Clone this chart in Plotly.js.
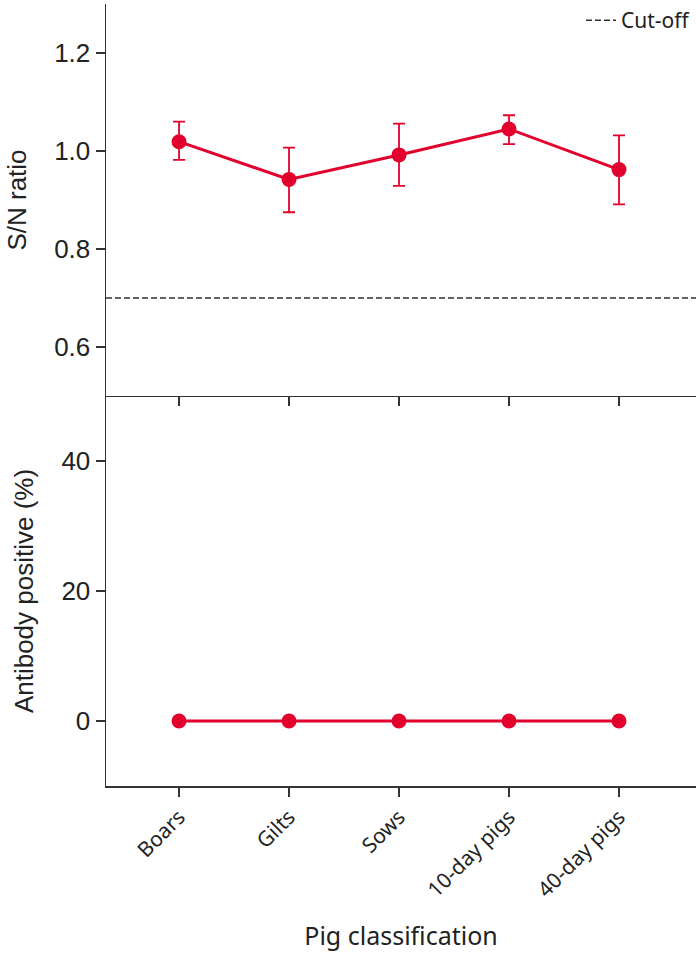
<!DOCTYPE html>
<html>
<head>
<meta charset="utf-8">
<script src="https://cdn.plot.ly/plotly-3.0.1.min.js"></script>
<style>
  html, body { margin: 0; padding: 0; background: #fff; }
  #chart { width: 696px; height: 953px; }
</style>
</head>
<body>
<div id="chart"></div>
<script>
// pig groups
const groups = ['Boars', 'Gilts', 'Sows', '10-day pigs', '40-day pigs'];

// S/N ratio (mean with error bar ends)
const snRatio = [1.019, 0.942, 0.992, 1.045, 0.962];
const snErrUp = [0.041, 0.065, 0.064, 0.028, 0.070];
const snErrDown = [0.037, 0.067, 0.063, 0.031, 0.071];

// antibody positive (%)
const positive = [0, 0, 0, 0, 0];

const cutOff = 0.7;

const red = '#e2002d';
const axisColor = '#333333';
const tickFont = { family: 'Liberation Sans, Arial, sans-serif', size: 26, color: '#222' };

let snTrace = {
    x: groups,
    y: snRatio,
    xaxis: 'x2',
    yaxis: 'y2',
    mode: 'lines+markers',
    type: 'scatter',
    line: { color: red, width: 3 },
    marker: { color: red, size: 15 },
    error_y: {
        type: 'data',
        symmetric: false,
        array: snErrUp,
        arrayminus: snErrDown,
        color: red,
        thickness: 1.8,
        width: 6
    },
    showlegend: false
};

let posTrace = {
    x: groups,
    y: positive,
    xaxis: 'x',
    yaxis: 'y',
    mode: 'lines+markers',
    type: 'scatter',
    line: { color: red, width: 3 },
    marker: { color: red, size: 15 },
    showlegend: false
};

let splitY = 391 / 784;

let layout = {
    width: 696,
    height: 953,
    margin: { l: 106, r: 0, t: 2, b: 167 },
    paper_bgcolor: '#fff',
    plot_bgcolor: '#fff',
    showlegend: true,
    legend: {
        x: 1, xanchor: 'right',
        y: 1.005, yanchor: 'top',
        bgcolor: 'rgba(0,0,0,0)',
        font: { family: 'Noto Sans, sans-serif', size: 21, color: '#222' }
    },
    xaxis: {
        domain: [0, 1],
        anchor: 'y',
        range: [-0.664, 4.7],
        showline: true,
        linecolor: axisColor,
        linewidth: 1.5,
        showgrid: false,
        zeroline: false,
        ticks: 'outside',
        ticklen: 9,
        tickwidth: 1.5,
        tickcolor: axisColor,
        tickangle: -45,
        tickfont: { family: 'Noto Sans, sans-serif', size: 21, color: '#222' },
        title: {
            text: 'Pig classification',
            font: { family: 'Noto Sans, sans-serif', size: 25, color: '#222' },
            standoff: 26
        }
    },
    xaxis2: {
        domain: [0, 1],
        anchor: 'y2',
        matches: 'x',
        showline: true,
        linecolor: axisColor,
        linewidth: 1.5,
        showgrid: false,
        zeroline: false,
        ticks: 'outside',
        ticklen: 9,
        tickwidth: 1.5,
        tickcolor: axisColor,
        showticklabels: false
    },
    yaxis: {
        domain: [0, splitY],
        anchor: 'x',
        range: [-10, 50],
        tickvals: [0, 20, 40],
        showline: true,
        linecolor: axisColor,
        linewidth: 1.5,
        showgrid: false,
        zeroline: false,
        ticks: 'outside',
        ticklen: 9,
        tickwidth: 1.5,
        tickcolor: axisColor,
        tickfont: tickFont,
        title: {
            text: 'Antibody positive (%)',
            font: { family: 'Liberation Sans, Arial, sans-serif', size: 26, color: '#222' },
            standoff: 20
        }
    },
    yaxis2: {
        domain: [splitY, 1],
        anchor: 'x2',
        range: [0.5, 1.3],
        tickvals: [0.6, 0.8, 1.0, 1.2],
        tickformat: '.1f',
        showline: true,
        linecolor: axisColor,
        linewidth: 1.5,
        showgrid: false,
        zeroline: false,
        ticks: 'outside',
        ticklen: 9,
        tickwidth: 1.5,
        tickcolor: axisColor,
        tickfont: tickFont,
        title: {
            text: 'S/N ratio',
            font: { family: 'Liberation Sans, Arial, sans-serif', size: 26, color: '#222' },
            standoff: 20
        }
    },
    shapes: [{
        type: 'line',
        xref: 'x2 domain',
        yref: 'y2',
        x0: 0, x1: 1,
        y0: cutOff, y1: cutOff,
        line: { color: '#333', width: 1.3, dash: '6px,3px' },
        showlegend: true,
        name: 'Cut-off'
    }]
};

Plotly.newPlot('chart', [snTrace, posTrace], layout, { displayModeBar: false, staticPlot: true });
</script>
</body>
</html>
